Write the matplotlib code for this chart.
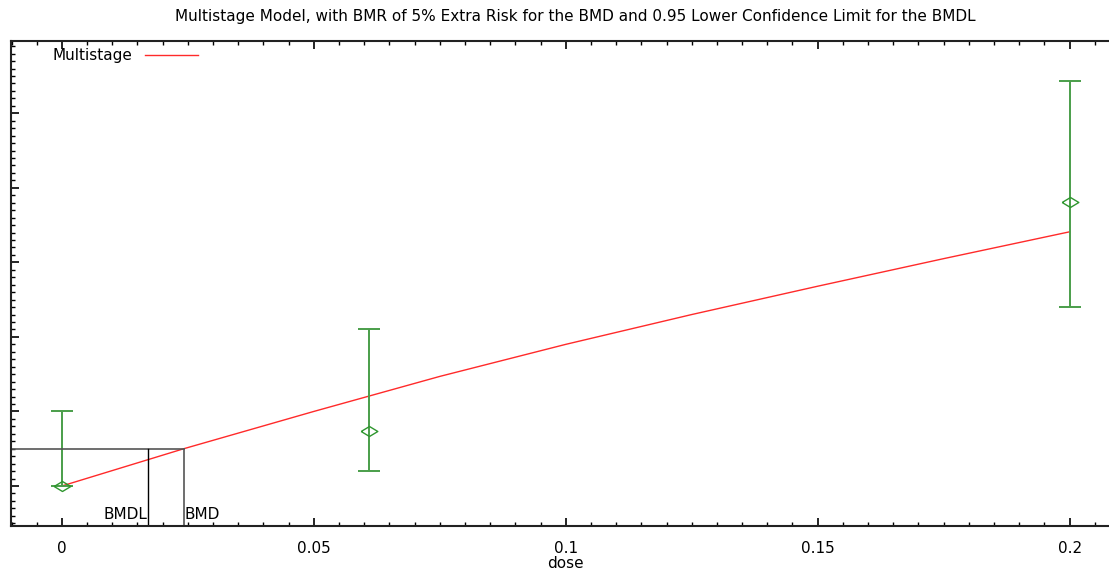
import matplotlib
matplotlib.use("Agg")
import matplotlib.pyplot as plt
from matplotlib.ticker import MultipleLocator

plt.rcParams['font.family'] = ['DejaVu Sans']

# observed data (dose, fraction affected, confidence limits)
dose = [0.0, 0.061, 0.2]
frac = [0.0, 0.074, 0.381]
lower = [0.0, 0.020, 0.240]
upper = [0.100, 0.211, 0.544]

# fitted multistage curve
fit_dose = [0.0, 0.0242, 0.05, 0.075, 0.1, 0.125, 0.15, 0.175, 0.2]
fit_frac = [0.0, 0.050, 0.100, 0.147, 0.190, 0.230, 0.268, 0.305, 0.341]

bmr = 0.05
bmd = 0.0242
bmdl = 0.0171

xticks = [0, 0.05, 0.1, 0.15, 0.2]
xticklabels = ['0', '0.05', '0.1', '0.15', '0.2']

fig = plt.figure(figsize=(11.09, 5.73), dpi=100)
ax = fig.add_axes([11/1109, 47/573, 1109/1109, 485/573])

ax.plot(fit_dose, fit_frac, color='#ff2a2a', lw=1.0, label='Multistage')

yerr = [[f - l for f, l in zip(frac, lower)], [u - f for f, u in zip(frac, upper)]]
eb = ax.errorbar(dose, frac, yerr=yerr, fmt='none', ecolor='#4a9e4a', elinewidth=1.4,
                 capsize=8, capthick=1.4)
for cap in eb[1]:
    cap.set_color('#6db46d')
diamond = [(-1, 0), (0, 0.6), (1, 0), (0, -0.6), (-1, 0)]
ax.plot(dose, frac, ls='none', marker=diamond, ms=12, mfc='none', mec='#2e962e', mew=1.0)

# BMD / BMDL markers
ax.plot([-0.0101, bmd], [bmr, bmr], color='#555555', lw=1.2)
ax.plot([bmdl, bmdl], [-0.06, bmr], color='black', lw=1.0)
ax.plot([bmd, bmd], [-0.06, bmr], color='#555555', lw=1.2)
ax.text(bmdl - 0.0002, -0.0443, 'BMDL', ha='right', va='baseline', fontsize=11)
ax.text(bmd + 0.0002, -0.0443, 'BMD', ha='left', va='baseline', fontsize=11)

ax.set_xlim(-0.0101, 0.21)
ax.set_ylim(-0.0537, 0.597)

ax.set_xticks(xticks)
ax.set_xticklabels(xticklabels)
ax.xaxis.set_minor_locator(MultipleLocator(0.005))
ax.yaxis.set_major_locator(MultipleLocator(0.1))
ax.yaxis.set_minor_locator(MultipleLocator(0.01))
ax.tick_params(axis='both', which='both', direction='in', top=True, right=False,
               labelsize=11, colors='black')
ax.tick_params(axis='both', which='major', length=6, width=1.2)
ax.tick_params(axis='both', which='minor', length=3, width=1.0)
ax.tick_params(axis='x', pad=11)
ax.tick_params(axis='y', labelleft=False)
for side in ['left', 'bottom', 'top']:
    ax.spines[side].set_linewidth(1.5)
    ax.spines[side].set_color('#222222')
ax.spines['right'].set_visible(False)

ax.set_xlabel('dose', fontsize=11, labelpad=0)
fig.text(575/1109, 1 - 17/573,
         'Multistage Model, with BMR of 5% Extra Risk for the BMD and 0.95 Lower Confidence Limit for the BMDL',
         ha='center', va='center', fontsize=11)

ax.legend(loc='upper left', bbox_to_anchor=(0.025, 1.013), frameon=False, markerfirst=False,
          handlelength=3.5, handletextpad=0.8, fontsize=11)

fig.savefig('out.png', dpi=100)
